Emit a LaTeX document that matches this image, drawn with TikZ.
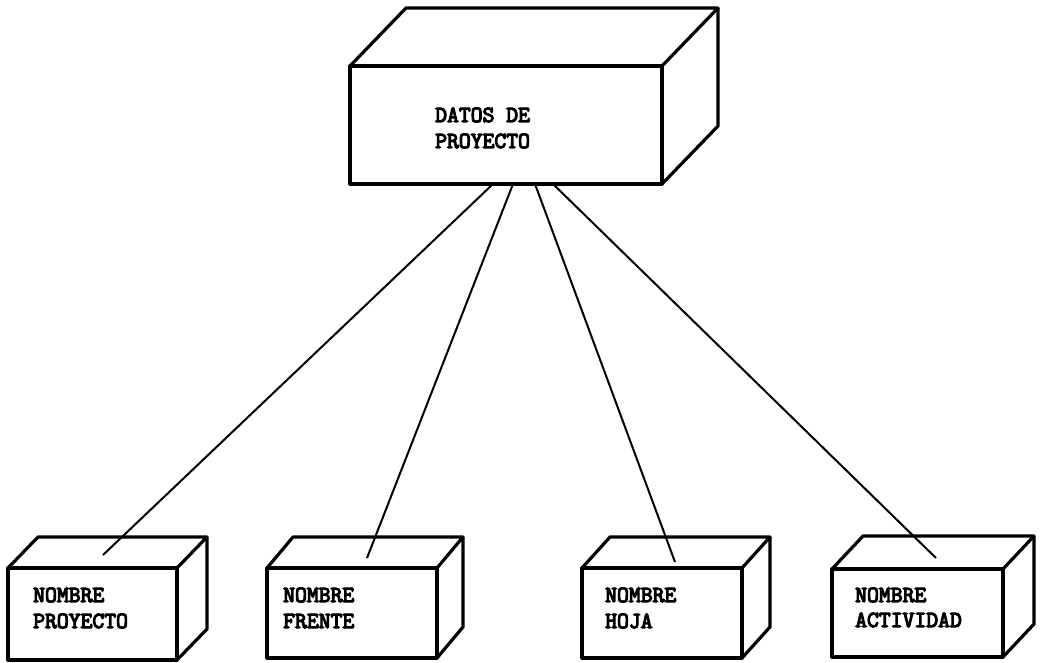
\documentclass[tikz,border=0pt]{standalone}
\usepackage{fontspec}
\newfontfamily\boxfont{Latin Modern Mono}[FakeBold=5]
\usetikzlibrary{calc}
\tikzset{
  face/.style={draw, line width=3.2pt, line join=round, inner sep=0pt, outer sep=0pt},
  edge3d/.style={draw, line width=3.2pt, line join=round},
  lbl/.style={font=\boxfont\fontsize{23}{26}\selectfont, anchor=base west, inner sep=0pt},
  link/.style={line width=2pt},
}
% name, x1, y1, x2, y2, dx, dy
\newcommand\mycube[7]{%
  \node[face, minimum width={(#4-#2)*1pt}, minimum height={(#5-#3)*1pt}] (#1) at ({(#2+#4)/2},{(#3+#5)/2}) {};
  \draw[edge3d] (#1.north west) -- ++(#6,#7) -- ($(#1.north east)+(#6,#7)$) -- (#1.north east);
  \draw[edge3d] ($(#1.north east)+(#6,#7)$) -- ($(#1.south east)+(#6,#7)$) -- (#1.south east);
}
\begin{document}
\begin{tikzpicture}[x=1pt,y=-1pt]
\useasboundingbox[fill=white] (0,0) rectangle (1046,663);

% top box
\mycube{top}{350}{66}{662}{184}{56}{-58}
\node[lbl] (ta) at (435,122) {DATOS DE};
\node[lbl] (tb) at (435,148) {PROYECTO};

% bottom boxes
\mycube{b1}{8}{568}{177}{660}{30}{-31}
\node[lbl] (b1a) at (33,602) {NOMBRE};
\node[lbl] (b1b) at (33,628) {PROYECTO};

\mycube{b2}{267}{568}{437}{658}{26}{-31}
\node[lbl] (b2a) at (283,602) {NOMBRE};
\node[lbl] (b2b) at (283,628) {FRENTE};

\mycube{b3}{582}{568}{742}{658}{28}{-31}
\node[lbl] (b3a) at (605,602) {NOMBRE};
\node[lbl] (b3b) at (605,628) {HOJA};

\mycube{b4}{832}{569}{1003}{657}{31}{-33}
\node[lbl] (b4a) at (855,602) {NOMBRE};
\node[lbl] (b4b) at (855,627) {ACTIVIDAD};

% connector end points
\coordinate (s1) at ($(top.south west)+(143,0)$);
\coordinate (s2) at ($(top.south west)+(163,0)$);
\coordinate (s3) at ($(top.south west)+(185,0)$);
\coordinate (s4) at ($(top.south west)+(203,0)$);
\coordinate (e1) at ($(b1.north west)+(95,-13)$);
\coordinate (e2) at ($(b2.north west)+(100,-10)$);
\coordinate (e3) at ($(b3.north west)+(93,-6)$);
\coordinate (e4) at ($(b4.north west)+(104,-11)$);

\draw[link] (s1) -- (e1);
\draw[link] (s2) -- (e2);
\draw[link] (s3) -- (e3);
\draw[link] (s4) -- (e4);
\end{tikzpicture}
\end{document}
